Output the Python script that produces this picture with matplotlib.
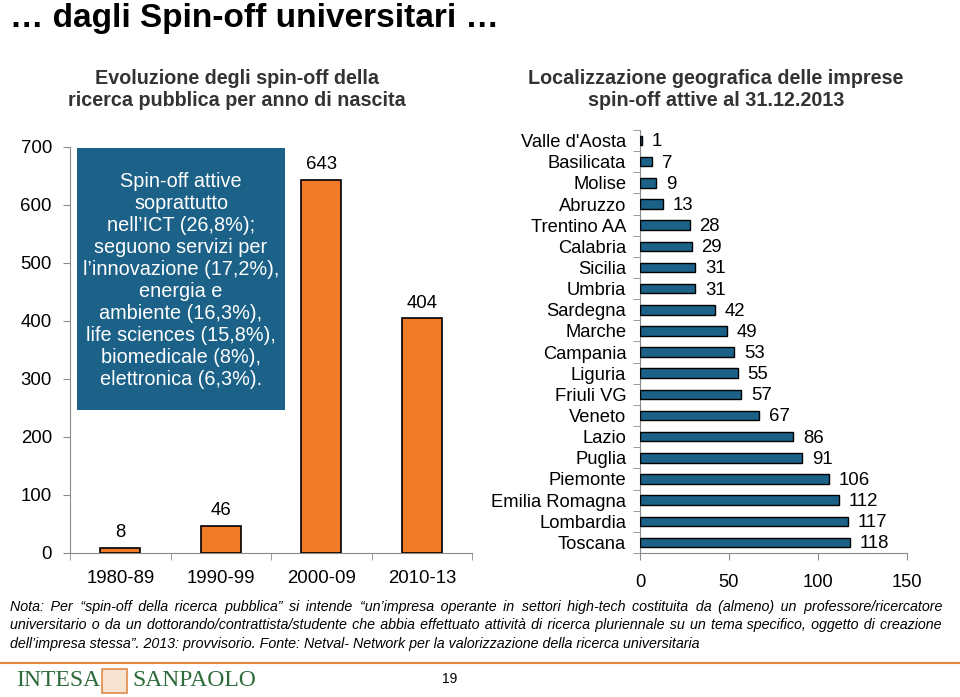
import matplotlib
matplotlib.use("Agg")
from matplotlib import pyplot as plt

# data
periodi = ['1980-89', '1990-99', '2000-09', '2010-13']
spinoff_anno = [8, 46, 643, 404]

regioni = ['Valle d\'Aosta', 'Basilicata', 'Molise', 'Abruzzo', 'Trentino AA', 'Calabria',
           'Sicilia', 'Umbria', 'Sardegna', 'Marche', 'Campania', 'Liguria', 'Friuli VG',
           'Veneto', 'Lazio', 'Puglia', 'Piemonte', 'Emilia Romagna', 'Lombardia', 'Toscana']
imprese_regione = [1, 7, 9, 13, 28, 29, 31, 31, 42, 49, 53, 55, 57, 67, 86, 91, 106, 112, 117, 118]

orange = '#F07A28'
blue = '#1B6188'
grey = '#8C8C8C'

plt.rcParams['font.family'] = ['Liberation Sans', 'DejaVu Sans']

fig = plt.figure(figsize=(9.6, 6.97), dpi=100)

fig.text(0.010, 0.974, '\u2026 dagli Spin-off universitari \u2026', fontsize=24, fontweight='bold',
         va='center', ha='left')
fig.text(0.247, 1 - 89 / 697, 'Evoluzione degli spin-off della\nricerca pubblica per anno di nascita',
         fontsize=14.2, fontweight='bold', color='#333333', ha='center', va='center', linespacing=1.2)
fig.text(0.746, 1 - 89 / 697, 'Localizzazione geografica delle imprese\nspin-off attive al 31.12.2013',
         fontsize=14.2, fontweight='bold', color='#333333', ha='center', va='center', linespacing=1.2)

# left chart
ax1 = fig.add_axes([0.0729, 0.2066, 0.419, 0.583])
x = range(len(periodi))
ax1.bar(x, spinoff_anno, width=0.4, color=orange, edgecolor='black', linewidth=1.2, zorder=3)
for i, v in enumerate(spinoff_anno):
    ax1.annotate(str(v), (i, v), xytext=(0, 5), textcoords='offset points',
                 ha='center', va='bottom', fontsize=13.4)
ax1.set_xlim(-0.5, 3.5)
ax1.set_ylim(0, 700)
ax1.set_yticks(range(0, 701, 100))
ax1.set_xticks(x)
ax1.set_xticklabels(periodi, fontsize=13.4)
ax1.set_xticks([-0.5, 0.5, 1.5, 2.5, 3.5], minor=True)
ax1.tick_params(axis='x', which='major', length=0, pad=12)
ax1.tick_params(axis='x', which='minor', length=5, color=grey)
ax1.tick_params(axis='y', labelsize=13.4, length=5, color=grey, pad=8)
for s in ['top', 'right']:
    ax1.spines[s].set_visible(False)
ax1.spines['left'].set_color(grey)
ax1.spines['bottom'].set_color(grey)

box_text = ('Spin-off attive\nsoprattutto\nnell\u2019ICT (26,8%);\nseguono servizi per\n'
            'l\u2019innovazione (17,2%),\nenergia e\nambiente (16,3%),\nlife sciences (15,8%),\n'
            'biomedicale (8%),\nelettronica (6,3%).')
fig.patches.append(plt.Rectangle((77 / 960, 1 - 410 / 697), 208 / 960, 262 / 697,
                                 transform=fig.transFigure, facecolor=blue, edgecolor='none', zorder=5))
fig.text(181 / 960, 1 - 281 / 697, box_text, color='white', fontsize=14.3, ha='center', va='center',
         linespacing=1.2, zorder=6)

# right chart
ax2 = fig.add_axes([0.6667, 0.2066, 0.278, 0.6069])
y = range(len(regioni))
ax2.barh(y, imprese_regione, height=0.45, color=blue, edgecolor='black', linewidth=1.0, zorder=3)
for i, v in enumerate(imprese_regione):
    ax2.annotate(str(v), (v, i), xytext=(7, -1), textcoords='offset points',
                 ha='left', va='center', fontsize=13.4)
ax2.set_ylim(19.5, -0.5)
ax2.set_xlim(0, 150)
ax2.set_xticks([0, 50, 100, 150])
ax2.set_yticks(list(y))
ax2.set_yticklabels(regioni, fontsize=13.2)
ax2.set_yticks([i - 0.5 for i in range(21)], minor=True)
ax2.tick_params(axis='y', which='major', length=0, pad=10)
ax2.tick_params(axis='y', which='minor', length=5, color=grey)
ax2.tick_params(axis='x', labelsize=13.2, length=5, color=grey, pad=10)
for s in ['top', 'right']:
    ax2.spines[s].set_visible(False)
ax2.spines['left'].set_color(grey)
ax2.spines['bottom'].set_color(grey)

# note, justified by widening the spaces with hair spaces
nota = ['Nota: Per \u201cspin-off della ricerca pubblica\u201d si intende \u201cun\u2019impresa operante in settori high-tech costituita da (almeno) un professore/ricercatore',
        'universitario o da un dottorando/contrattista/studente che abbia effettuato attivit\u00e0 di ricerca pluriennale su un tema specifico, oggetto di creazione',
        'dell\u2019impresa stessa\u201d. 2013: provvisorio. Fonte: Netval- Network per la valorizzazione della ricerca universitaria']
renderer = fig.canvas.get_renderer()
kw = dict(fontsize=10.3, style='italic', va='center', ha='left')


def larghezza(s):
    t = fig.text(0, 0, s, **kw)
    w = t.get_window_extent(renderer).width
    t.remove()
    return w


hair = (larghezza('a' + '\u200a' * 40 + 'a') - larghezza('aa')) / 40
left_px, right_px = 10, 942
for k, riga in enumerate(nota):
    testo = riga
    if k < len(nota) - 1 and hair > 0:
        parole = riga.split(' ')
        extra = (right_px - left_px - larghezza(riga)) / hair
        n = len(parole) - 1
        testo = parole[0]
        for j in range(n):
            cnt = round(extra * (j + 1) / n) - round(extra * j / n)
            testo += ' ' + '\u200a' * max(cnt, 0) + parole[j + 1]
    fig.text(left_px / 960, 1 - (607 + k * 18.5) / 697, testo, **kw)

fig.add_artist(plt.Line2D([0, 1], [1 - 663 / 697, 1 - 663 / 697], color='#E8873A', linewidth=1.5))
fig.text(16 / 960, 1 - 681 / 697, 'INTESA', fontsize=17, color='#2E6B3A',
         family=['Liberation Serif', 'DejaVu Serif'], va='center', ha='left')
fig.patches.append(plt.Rectangle((102 / 960, 1 - 693 / 697), 25 / 960, 24 / 697,
                                 transform=fig.transFigure, facecolor='#F6E3D2', edgecolor='#E08A4A',
                                 linewidth=1.2))
fig.text(132 / 960, 1 - 681 / 697, 'SANPAOLO', fontsize=17, color='#2E6B3A',
         family=['Liberation Serif', 'DejaVu Serif'], va='center', ha='left')
fig.text(450 / 960, 1 - 679 / 697, '19', fontsize=10, ha='center', va='center')

fig.savefig('out.png', dpi=100, facecolor='white')
